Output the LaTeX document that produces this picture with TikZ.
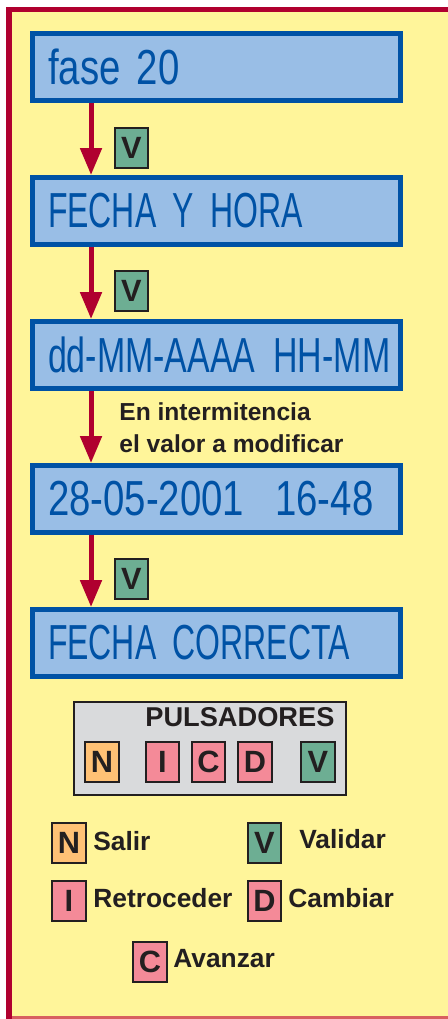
\documentclass[tikz,border=0pt]{standalone}
\usepackage{fontspec}
\setmainfont{Liberation Sans}
\newfontfamily\condensedfont[FakeStretch=0.65, WordSpace=0.6]{Liberation Sans}
\newfontfamily\mixedfont[FakeStretch=0.69, WordSpace=0.6]{Liberation Sans}
\newfontfamily\digitsfont[FakeStretch=0.78, WordSpace=0.6]{Liberation Sans}
\usetikzlibrary{arrows.meta}

\definecolor{paper}{HTML}{FFF59A}
\definecolor{framered}{HTML}{B0002F}
\definecolor{edgered}{HTML}{D86060}
\definecolor{screenblue}{HTML}{0052A5}
\definecolor{screenfill}{HTML}{99BEE6}
\definecolor{validgreen}{HTML}{6DAE93}
\definecolor{exitorange}{HTML}{FFC175}
\definecolor{movepink}{HTML}{F48A98}
\definecolor{panelgray}{HTML}{D9DADC}
\definecolor{ink}{HTML}{231F20}

\begin{document}
\begin{tikzpicture}[
        x=0.02cm, y=-0.02cm,
        screen box/.style={draw=screenblue, fill=screenfill, line width=0.1cm, minimum width=7.36cm, minimum height=1.34cm, inner xsep=0.31cm, text width=6.74cm, align=left, text=screenblue, font=\condensedfont\fontsize{28}{30}\selectfont},
        mixed/.style={font=\mixedfont\fontsize{28}{30}\selectfont},
        digits/.style={font=\digitsfont\fontsize{28}{30}\selectfont},
        key box/.style={draw=ink, line width=0.04cm, minimum width=0.68cm, minimum height=0.8cm, inner sep=0pt, text=ink, font=\bfseries\fontsize{17.5}{18}\selectfont},
        legend text/.style={anchor=base west, inner sep=0pt, text=ink, font=\bfseries\fontsize{15}{16}\selectfont},
        red arrow/.style={draw=framered, line width=0.1cm, -{Triangle[width=0.42cm, length=0.54cm]}},
    ]

    % Sheet and frame
    \useasboundingbox (0,0) rectangle (448,1019);
    \fill[white] (0,0) rectangle (448,1019);
    \fill[paper] (12,12) rectangle (448,1016);
    \fill[framered] (6,7) rectangle (448,12);
    \fill[framered] (6,7) rectangle (12,1019);
    \fill[edgered] (12,1016) rectangle (448,1019);

    % Display screens
    \node[screen box, digits] (fase) at (216.5,67) {fase 20};
    \node[screen box] (menu) at (216.5,211) {FECHA Y HORA};
    \node[screen box, mixed] (format) at (216.5,355) {\mbox{dd-MM-AAAA\hspace*{0.36cm}HH-MM}};
    \node[screen box, digits] (value) at (216.5,499) {\mbox{28-05-2001\hspace*{0.62cm}16-48}};
    \node[screen box] (done) at (216.5,643) {FECHA CORRECTA};

    % Steps between screens
    \draw[red arrow] ([xshift=1.22cm]fase.south west) -- ([xshift=1.22cm]menu.north west);
    \draw[red arrow] ([xshift=1.22cm]menu.south west) -- ([xshift=1.22cm]format.north west);
    \draw[red arrow] ([xshift=1.22cm]format.south west) -- ([xshift=1.22cm]value.north west);
    \draw[red arrow] ([xshift=1.22cm]value.south west) -- ([xshift=1.22cm]done.north west);

    % Keys pressed on each step
    \node[key box, fill=validgreen] (step1) at (131.5,148) {V};
    \node[key box, fill=validgreen] (step2) at (131.5,291) {V};
    \node[key box, fill=validgreen] (step4) at (131.5,579) {V};
    \node[anchor=north west, inner sep=0pt, align=left, text=ink, font=\bfseries\fontsize{14}{18.2}\selectfont] (blink) at (119,402) {En intermitencia\\el valor a modificar};

    % Push button panel
    \node[draw=ink, fill=panelgray, line width=0.04cm, minimum width=5.44cm, minimum height=1.86cm] (panel) at (210,748.5) {};
    \node[legend text, font=\bfseries\fontsize{15.5}{16}\selectfont] (paneltitle) at (145,726) {PULSADORES};
    \node[key box, fill=exitorange] (pN) at (102,762) {N};
    \node[key box, fill=movepink] (pI) at (162.5,762) {I};
    \node[key box, fill=movepink] (pC) at (208.5,762) {C};
    \node[key box, fill=movepink] (pD) at (255,762) {D};
    \node[key box, fill=validgreen] (pV) at (318,762) {V};

    % Legend
    \node[key box, fill=exitorange] (kN) at (69,842.5) {N};
    \node[legend text] (tN) at (93,850) {Salir};
    \node[key box, fill=validgreen] (kV) at (264.5,842.5) {V};
    \node[legend text] (tV) at (299,848) {Validar};
    \node[key box, fill=movepink] (kI) at (69,900.5) {I};
    \node[legend text] (tI) at (93,907) {Retroceder};
    \node[key box, fill=movepink] (kD) at (264.5,900.5) {D};
    \node[legend text] (tD) at (288,907) {Cambiar};
    \node[key box, fill=movepink] (kC) at (150,961.5) {C};
    \node[legend text] (tC) at (173,967) {Avanzar};

\end{tikzpicture}
\end{document}
